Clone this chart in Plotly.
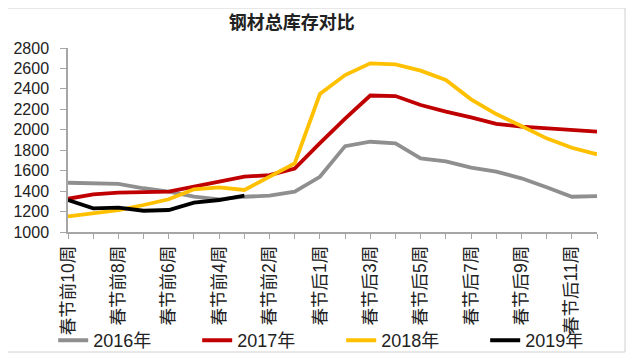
import plotly.graph_objects as go

categories = ["春节前10周", "春节前9周", "春节前8周", "春节前7周", "春节前6周", "春节前5周",
              "春节前4周", "春节前3周", "春节前2周", "春节前1周",
              "春节后1周", "春节后2周", "春节后3周", "春节后4周", "春节后5周", "春节后6周",
              "春节后7周", "春节后8周", "春节后9周", "春节后10周", "春节后11周", "春节后12周"]

s2016 = [1482, 1475, 1470, 1428, 1395, 1345, 1320, 1345, 1355, 1394, 1540, 1840,
         1883, 1867, 1720, 1690, 1630, 1590, 1525, 1437, 1345, 1350]
s2017 = [1325, 1368, 1385, 1390, 1395, 1443, 1492, 1541, 1557, 1620, 1870, 2110,
         2335, 2330, 2242, 2177, 2122, 2058, 2030, 2014, 2004, 1981]
s2018 = [1152, 1183, 1215, 1264, 1320, 1418, 1437, 1411, 1545, 1672, 2350, 2535,
         2650, 2640, 2578, 2487, 2298, 2154, 2037, 1916, 1824, 1760]
s2019 = [1313, 1232, 1238, 1208, 1215, 1287, 1313, 1355]

series = [("2016年", s2016, "#8F8F8F"), ("2017年", s2017, "#C00000"),
          ("2018年", s2018, "#FFC000"), ("2019年", s2019, "#000000")]

yticks = [1000, 1200, 1400, 1600, 1800, 2000, 2200, 2400, 2600, 2800]
ticktext = [c if i % 2 == 0 else "" for i, c in enumerate(categories)]

FONT = "Liberation Sans, Noto Sans CJK SC, sans-serif"

fig = go.Figure()
for name, vals, color in series:
    fig.add_trace(go.Scatter(
        x=categories[:len(vals)], y=vals, name=name, mode="lines",
        line=dict(color=color, width=3.8),
    ))

# page body has an 8px margin, so the figure is sized/offset accordingly
fig.update_layout(
    width=626, height=354,
    margin=dict(l=60, r=37, t=40, b=130, autoexpand=False),
    paper_bgcolor="white", plot_bgcolor="white",
    font=dict(family=FONT, size=16, color="#222222"),
    title=dict(text="<b>钢材总库存对比</b>", x=0.423, xref="paper", xanchor="center",
               y=0.958, yref="container", yanchor="middle",
               font=dict(family="Noto Sans CJK SC", size=18, color="#222222")),
    showlegend=True,
    legend=dict(orientation="h", x=-0.028, xanchor="left", y=-0.59, yanchor="middle",
                font=dict(family=FONT, size=18, color="#222222"),
                entrywidth=99, entrywidthmode="pixels",
                bgcolor="rgba(0,0,0,0)", itemwidth=30, tracegroupgap=0),
    xaxis=dict(type="category", categoryorder="array", categoryarray=categories,
               range=[0, 21], tickmode="array", tickvals=categories, ticktext=ticktext,
               tickangle=-90, ticks="outside", ticklen=5, tickcolor="#A6A6A6",
               showline=True, linecolor="#A6A6A6", linewidth=1.5, showgrid=False,
               zeroline=False, automargin=False,
               tickfont=dict(family=FONT, size=17.5, color="#222222")),
    yaxis=dict(range=[1000, 2800], tickmode="array", tickvals=yticks,
               ticks="outside", ticklen=6, tickcolor="#A6A6A6",
               showline=True, linecolor="#A6A6A6", linewidth=1.5, showgrid=False,
               zeroline=False, ticklabelstandoff=8, automargin=False,
               tickfont=dict(family=FONT, size=16, color="#222222")),
    shapes=[dict(type="rect", xref="paper", yref="paper",
                 x0=(6 - 68) / 529, x1=(625 - 68) / 529,
                 y0=(232 - 352) / 184, y1=(232 - 8) / 184,
                 line=dict(color="#D0D0D0", width=1), layer="below")],
)

fig.write_html("out.html")
